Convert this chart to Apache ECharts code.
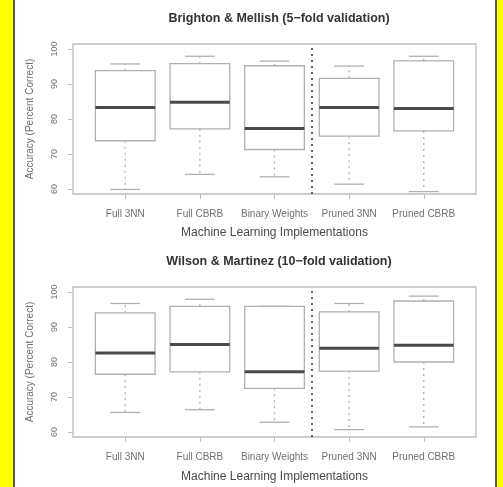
<!DOCTYPE html>
<html>
<head>
<meta charset="utf-8">
<script src="https://cdn.jsdelivr.net/npm/echarts@6/dist/echarts.min.js"></script>
<style>
  html, body { margin: 0; padding: 0; background: #ffffff; }
  #chart { position: absolute; left: 0; top: 0; width: 503px; height: 487px; }
  .strip { position: absolute; top: 0; height: 487px; background: #ffff00; }
  #leftStrip { left: 0; width: 13px; border-right: 2px solid #5a5a4a; }
  #rightStrip { left: 495px; width: 6px; border-left: 2px solid #5a5a4a; }
</style>
</head>
<body>
<div id="chart"></div>
<div id="leftStrip" class="strip"></div>
<div id="rightStrip" class="strip"></div>
<script>
// ---- data ----
const categories = ['Full 3NN', 'Full CBRB', 'Binary Weights', 'Pruned 3NN', 'Pruned CBRB'];
const yTicks = [60, 70, 80, 90, 100];

const titleTop = 'Brighton & Mellish (5\u2212fold validation)';
const bmLow  = [59.9, 64.2, 63.5, 61.4, 59.3];
const bmQ1   = [73.8, 77.2, 71.3, 75.1, 76.6];
const bmMed  = [83.3, 84.8, 77.3, 83.3, 83.0];
const bmQ3   = [93.8, 95.8, 95.2, 91.6, 96.6];
const bmHigh = [95.7, 97.9, 96.5, 95.1, 97.9];

const titleBottom = 'Wilson & Martinez (10\u2212fold validation)';
const wmLow  = [65.6, 66.4, 62.8, 60.7, 61.5];
const wmQ1   = [76.5, 77.2, 72.5, 77.4, 80.0];
const wmMed  = [82.6, 85.0, 77.2, 83.9, 84.8];
const wmQ3   = [94.0, 95.9, 95.9, 94.3, 97.4];
const wmHigh = [96.7, 97.9, 95.9, 96.7, 98.8];

const separatorAt = 3.5;
const xName = 'Machine Learning Implementations';
const yName = 'Accuracy (Percent Correct)';

// ---- styling ----
const FONT = '"Liberation Sans", Arial, sans-serif';
const BOX_W = 0.8;
const FRAME = '#bdbdbd';
const BOXC = '#b0b0b0';
const MEDC = '#4a4a4a';

function buildData(lo, q1, md, q3, hi) {
  return categories.map((c, i) => [i + 1, lo[i], q1[i], md[i], q3[i], hi[i]]);
}

function renderBox(params, api) {
  const x = api.value(0);
  const pLo = api.coord([x, api.value(1)]);
  const pQ1 = api.coord([x, api.value(2)]);
  const pMd = api.coord([x, api.value(3)]);
  const pQ3 = api.coord([x, api.value(4)]);
  const pHi = api.coord([x, api.value(5)]);
  const half = api.size([BOX_W, 0])[0] / 2;
  const cap = half / 2;
  const cx = pMd[0];
  const line = (x1, y1, x2, y2, style) => ({
    type: 'line', shape: { x1, y1, x2, y2 }, style: Object.assign({ stroke: BOXC, lineWidth: 1.3 }, style)
  });
  return {
    type: 'group',
    children: [
      line(cx, pQ1[1], cx, pLo[1], { lineDash: [2, 4] }),
      line(cx, pQ3[1], cx, pHi[1], { lineDash: [2, 4] }),
      line(cx - cap, pLo[1], cx + cap, pLo[1], {}),
      line(cx - cap, pHi[1], cx + cap, pHi[1], {}),
      { type: 'rect', shape: { x: cx - half, y: pQ3[1], width: half * 2, height: pQ1[1] - pQ3[1] },
        style: { fill: 'none', stroke: BOXC, lineWidth: 1.3 } },
      line(cx - half, pMd[1], cx + half, pMd[1], { stroke: MEDC, lineWidth: 3 })
    ]
  };
}

function xAxis(gridIndex, gap) {
  return {
    type: 'value', gridIndex, min: 0.3, max: 5.7,
    name: xName, nameLocation: 'middle', nameGap: gap,
    nameTextStyle: { fontFamily: FONT, fontSize: 12, color: '#4a4a4a' },
    axisLine: { show: false },
    splitLine: { show: false },
    axisTick: { show: true, length: 5, customValues: [1, 2, 3, 4, 5], lineStyle: { color: FRAME } },
    axisLabel: {
      customValues: [1, 2, 3, 4, 5], margin: 15,
      fontFamily: FONT, fontSize: 10, color: '#707070',
      formatter: v => categories[Math.round(v) - 1] || ''
    }
  };
}

function yAxis(gridIndex) {
  return {
    type: 'value', gridIndex, min: 58.6, max: 101.4,
    name: yName, nameLocation: 'middle', nameGap: 38, nameRotate: 90,
    nameTextStyle: { fontFamily: FONT, fontSize: 10, color: '#707070' },
    axisLine: { show: false },
    splitLine: { show: false },
    axisTick: { show: true, length: 5, customValues: yTicks, lineStyle: { color: FRAME } },
    axisLabel: {
      customValues: yTicks, rotate: 90, margin: 14,
      fontFamily: FONT, fontSize: 9, color: '#707070'
    }
  };
}

function boxSeries(idx, data) {
  return {
    type: 'custom', xAxisIndex: idx, yAxisIndex: idx,
    renderItem: renderBox, data,
    encode: { x: 0, y: [1, 2, 3, 4, 5] },
    silent: true,
    markLine: {
      silent: true, symbol: 'none', animation: false,
      label: { show: false },
      lineStyle: { type: [2, 4], color: '#333333', width: 1.5 },
      data: [{ xAxis: separatorAt }]
    }
  };
}

const chart = echarts.init(document.getElementById('chart'), null, { renderer: 'canvas' });
chart.setOption({
  backgroundColor: '#ffffff',
  animation: false,
  title: [
    { text: titleTop, left: 274, top: 7, textAlign: 'center',
      textStyle: { fontFamily: FONT, fontSize: 12.5, fontWeight: 'bold', color: '#333333' } },
    { text: titleBottom, left: 274, top: 250, textAlign: 'center',
      textStyle: { fontFamily: FONT, fontSize: 12.5, fontWeight: 'bold', color: '#333333' } }
  ],
  grid: [
    { left: 73, top: 44, width: 403, height: 150, show: true, borderColor: FRAME, borderWidth: 1.3, backgroundColor: 'transparent' },
    { left: 73, top: 287, width: 403, height: 150, show: true, borderColor: FRAME, borderWidth: 1.3, backgroundColor: 'transparent' }
  ],
  xAxis: [xAxis(0, 33), xAxis(1, 34)],
  yAxis: [yAxis(0), yAxis(1)],
  series: [
    boxSeries(0, buildData(bmLow, bmQ1, bmMed, bmQ3, bmHigh)),
    boxSeries(1, buildData(wmLow, wmQ1, wmMed, wmQ3, wmHigh))
  ]
});
</script>
</body>
</html>
